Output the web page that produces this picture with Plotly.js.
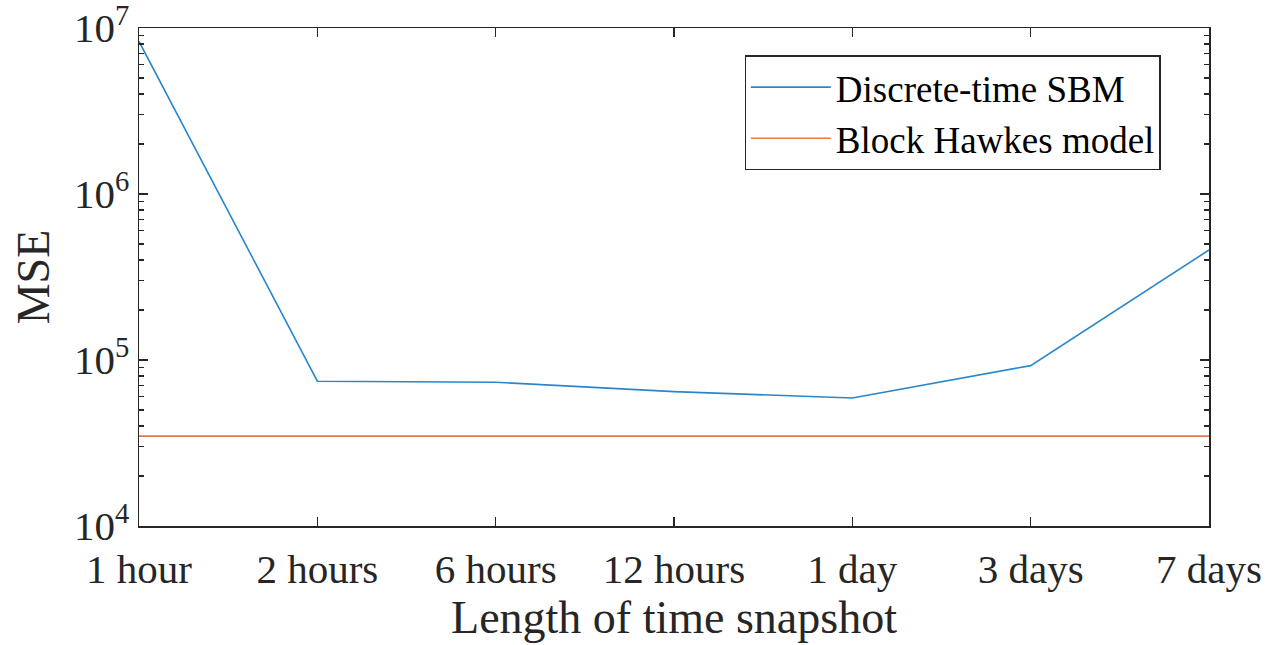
<!DOCTYPE html>
<html>
<head>
<meta charset="utf-8">
<script src="https://cdn.plot.ly/plotly-3.0.1.min.js"></script>
<style>html,body{margin:0;padding:0;background:#fff;}#chart{width:1268px;height:645px;}</style>
</head>
<body>
<div id="chart"></div>
<script>
const categories = ["1 hour", "2 hours", "6 hours", "12 hours", "1 day", "3 days", "7 days"];
const sbmMSE = [8.3e6, 7.45e4, 7.35e4, 6.45e4, 5.9e4, 9.25e4, 4.6e5];
const hawkesMSE = [3.48e4, 3.48e4, 3.48e4, 3.48e4, 3.48e4, 3.48e4, 3.48e4];
const yTickVals = [1e4, 1e5, 1e6, 1e7];
const yTickText = ["10<sup>4</sup>", "10<sup>5</sup>", "10<sup>6</sup>", "10<sup>7</sup>"];

// minor tick positions (2..9 within each decade)
const minorVals = [];
for (let e = 4; e < 7; e++) for (let d = 2; d <= 9; d++) minorVals.push(d * Math.pow(10, e));

const fontFam = "Liberation Serif, Times New Roman, serif";
const traces = [
  {x: categories, y: sbmMSE, type: "scatter", mode: "lines", name: "Discrete-time SBM",
   line: {color: "#2a87cc", width: 1.6}},
  {x: categories, y: hawkesMSE, type: "scatter", mode: "lines", name: "Block Hawkes model",
   line: {color: "#e8794a", width: 1.6}}
];
const axisCommon = {
  showline: true, linecolor: "#262626", linewidth: 1.5, mirror: "ticks",
  ticks: "inside", tickcolor: "#262626", tickwidth: 1.5, ticklen: 9,
  showgrid: false, zeroline: false, ticklabeloverflow: "allow",
  tickfont: {family: fontFam, size: 41, color: "#262626"}
};
const layout = {
  width: 1268, height: 645,
  margin: {l: 139, r: 59, t: 28, b: 119},
  paper_bgcolor: "#fff", plot_bgcolor: "#fff",
  font: {family: fontFam, color: "#262626"},
  showlegend: true,
  legend: {x: 0.566, y: 0.945, xanchor: "left", yanchor: "top",
    bgcolor: "#fff", bordercolor: "#262626", borderwidth: 1.2,
    font: {family: fontFam, size: 37, color: "#000"}, itemwidth: 80,
    tracegroupgap: 0},
  xaxis: Object.assign({}, axisCommon, {
    type: "category", range: [0, 6],
    ticklabelstandoff: 6,
    title: {text: "Length of time snapshot", font: {family: fontFam, size: 46, color: "#262626"}, standoff: 9}
  }),
  yaxis: Object.assign({}, axisCommon, {
    type: "log", range: [4, 7],
    tickmode: "array", tickvals: yTickVals, ticktext: yTickText,
    minor: {tickmode: "array", tickvals: minorVals, ticks: "inside", ticklen: 5, tickcolor: "#262626", tickwidth: 1.2, showgrid: false},
    title: {text: "MSE", font: {family: fontFam, size: 46, color: "#262626"}, standoff: 10}
  })
};
Plotly.newPlot("chart", traces, layout, {displayModeBar: false, staticPlot: true});
</script>
</body>
</html>
